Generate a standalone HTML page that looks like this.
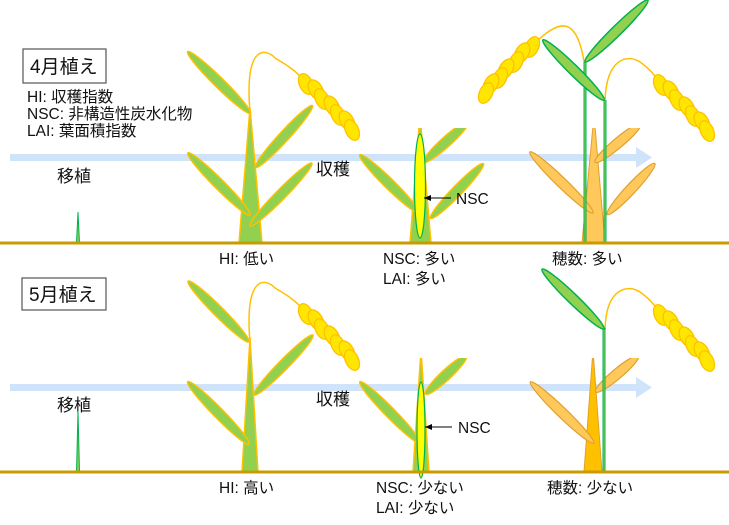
<!DOCTYPE html>
<html><head><meta charset="utf-8"><style>
html,body{margin:0;padding:0;background:#fff;}
svg{display:block;font-family:"Liberation Sans","Noto Sans CJK JP",sans-serif;}
.lf{fill:#92d050;stroke:#ffc000;stroke-width:1.5}
.gl{fill:#92d050;stroke:#00b050;stroke-width:1.5}
.ol{fill:#ffc85a;stroke:#e0a030;stroke-width:1.2}
.gr{fill:#ffe600;stroke:#ffc000;stroke-width:1.3}
.t{font-size:15.5px;fill:#111}
</style></head><body>
<svg width="729" height="525" viewBox="0 0 729 525" xmlns="http://www.w3.org/2000/svg">
<defs>
<clipPath id="c1"><rect x="0" y="128" width="729" height="120"/></clipPath>
<clipPath id="c2"><rect x="0" y="358" width="729" height="120"/></clipPath>
<marker id="ah" markerWidth="8" markerHeight="8" refX="7" refY="4" orient="auto"><path d="M0,1 L7,4 L0,7 Z" fill="#000"/></marker>
<g id="pan">
<ellipse class="gr" cx="306" cy="84" rx="11" ry="6.5" transform="rotate(65 306 84)"/>
<ellipse class="gr" cx="316" cy="90" rx="11" ry="6.5" transform="rotate(60 316 90)"/>
<ellipse class="gr" cx="322" cy="99" rx="11" ry="6.5" transform="rotate(65 322 99)"/>
<ellipse class="gr" cx="332" cy="106" rx="11" ry="6.5" transform="rotate(60 332 106)"/>
<ellipse class="gr" cx="338" cy="115" rx="11" ry="6.5" transform="rotate(65 338 115)"/>
<ellipse class="gr" cx="347" cy="121" rx="11" ry="6.5" transform="rotate(60 347 121)"/>
<ellipse class="gr" cx="352" cy="130" rx="11" ry="6.5" transform="rotate(65 352 130)"/>
</g>
</defs>

<rect x="10" y="154" width="630" height="7" fill="#cfe4fb"/>
<path d="M636,147 L652,157.5 L636,168 Z" fill="#cfe4fb"/>
<rect x="10" y="384" width="630" height="7" fill="#cfe4fb"/>
<path d="M636,377 L652,387.5 L636,398 Z" fill="#cfe4fb"/>

<rect x="23" y="49" width="83" height="34" fill="#fff" stroke="#555" stroke-width="1.2"/>
<text x="30" y="73" style="font-size:19px" fill="#111">4月植え</text>
<text class="t" x="27" y="102">HI: 収穫指数</text>
<text class="t" x="27" y="119">NSC: 非構造性炭水化物</text>
<text class="t" x="27" y="136">LAI: 葉面積指数</text>
<rect x="22" y="278" width="84" height="32" fill="#fff" stroke="#555" stroke-width="1.2"/>
<text x="29" y="301" style="font-size:19px" fill="#111">5月植え</text>

<text class="t" x="57" y="182" style="font-size:17px">移植</text>
<text class="t" x="57" y="411" style="font-size:17px">移植</text>
<text class="t" x="316" y="175" style="font-size:17px">収穫</text>
<text class="t" x="316" y="405" style="font-size:17px">収穫</text>

<path d="M76.5,243 L78,212 L79.5,243 Z" fill="#92d050" stroke="#00b050" stroke-width="1"/>
<path d="M76.5,472 L78,411 L79.5,472 Z" fill="#92d050" stroke="#00b050" stroke-width="1"/>

<path d="M250,112 C244,40 268,50 275,58 C285,64 292,68 300,76" fill="none" stroke="#ffc000" stroke-width="1.5"/>
<use href="#pan"/>
<path class="lf" d="M239,243 L250,108 L262,243 Z"/>
<ellipse class="lf" cx="219" cy="82.5" rx="44" ry="5" transform="rotate(44.5 219 82.5)"/>
<ellipse class="lf" cx="284" cy="136.5" rx="42" ry="5" transform="rotate(-47.4 284 136.5)"/>
<ellipse class="lf" cx="219" cy="184" rx="44" ry="5" transform="rotate(45 219 184)"/>
<ellipse class="lf" cx="281" cy="194.5" rx="44" ry="5" transform="rotate(-45.5 281 194.5)"/>

<g clip-path="url(#c1)">
<path class="lf" d="M410,243 L420,115 L431,243 Z"/>
<ellipse class="lf" cx="389" cy="183.5" rx="41" ry="5" transform="rotate(44.5 389 183.5)"/>
<ellipse class="lf" cx="446" cy="142" rx="30" ry="5" transform="rotate(-42 446 142)"/>
<ellipse class="lf" cx="457" cy="191" rx="38" ry="5" transform="rotate(-46 457 191)"/>
</g>
<ellipse cx="420" cy="186" rx="5.5" ry="52" fill="#ffff00" stroke="#00b050" stroke-width="1.2"/>
<line x1="451" y1="198" x2="424" y2="198" stroke="#000" stroke-width="1" marker-end="url(#ah)"/>
<text class="t" x="456" y="204">NSC</text>

<path d="M585,68 C578,15 560,20 538,40" fill="none" stroke="#ffc000" stroke-width="1.5"/>
<g transform="translate(838 0) scale(-1 1) translate(0 -37)"><use href="#pan"/></g>
<path d="M605,102 C606,55 630,55 640,62 C646,66 650,70 655,76" fill="none" stroke="#ffc000" stroke-width="1.5"/>
<g transform="translate(355 1)"><use href="#pan"/></g>
<g clip-path="url(#c1)">
<path d="M582,243 L594,115 L605,243 Z" fill="#ffc85a" stroke="#e0a030" stroke-width="1"/>
<ellipse class="ol" cx="561.5" cy="182.5" rx="44" ry="5" transform="rotate(44 561.5 182.5)"/>
<ellipse class="ol" cx="618" cy="143" rx="30" ry="5" transform="rotate(-40 618 143)"/>
<ellipse class="ol" cx="631" cy="189" rx="35" ry="5" transform="rotate(-47 631 189)"/>
</g>
<line x1="585" y1="62" x2="585" y2="243" stroke="#00b050" stroke-width="3"/>
<line x1="585" y1="62" x2="585" y2="243" stroke="#92d050" stroke-width="1"/>
<line x1="605" y1="100" x2="605" y2="243" stroke="#00b050" stroke-width="3"/>
<line x1="605" y1="100" x2="605" y2="243" stroke="#92d050" stroke-width="1"/>
<ellipse class="gl" cx="573.5" cy="70" rx="43" ry="5" transform="rotate(44.5 573.5 70)"/>
<ellipse class="gl" cx="616.5" cy="31" rx="44" ry="5" transform="rotate(-44.5 616.5 31)"/>

<path d="M250,342 C244,270 268,280 275,288 C285,294 292,298 300,306" fill="none" stroke="#ffc000" stroke-width="1.5"/>
<g transform="translate(0 230)"><use href="#pan"/></g>
<path class="lf" d="M242,472 L250,338 L258,472 Z"/>
<ellipse class="lf" cx="218.5" cy="311.5" rx="43" ry="5" transform="rotate(45 218.5 311.5)"/>
<ellipse class="lf" cx="283.5" cy="365" rx="42" ry="5" transform="rotate(-45.5 283.5 365)"/>
<ellipse class="lf" cx="218.5" cy="413" rx="44" ry="5" transform="rotate(45.5 218.5 413)"/>

<g clip-path="url(#c2)">
<path class="lf" d="M413,472 L421,350 L429,472 Z"/>
<ellipse class="lf" cx="390" cy="412.5" rx="43" ry="5" transform="rotate(45.5 390 412.5)"/>
<ellipse class="lf" cx="446" cy="375" rx="28" ry="5" transform="rotate(-43 446 375)"/>
</g>
<ellipse cx="421" cy="430" rx="4" ry="48" fill="#ffff00" stroke="#00b050" stroke-width="1.2"/>
<line x1="452" y1="427" x2="425" y2="427" stroke="#000" stroke-width="1" marker-end="url(#ah)"/>
<text class="t" x="458" y="433">NSC</text>

<path d="M605,330 C606,285 630,285 640,292 C646,296 650,300 655,306" fill="none" stroke="#ffc000" stroke-width="1.5"/>
<g transform="translate(355 231)"><use href="#pan"/></g>
<g clip-path="url(#c2)">
<path d="M584,472 L593,350 L602,472 Z" fill="#ffc000" stroke="#e0a030" stroke-width="1"/>
<ellipse class="ol" cx="562" cy="412.5" rx="44" ry="5" transform="rotate(44 562 412.5)"/>
<ellipse class="ol" cx="617" cy="374" rx="28" ry="5" transform="rotate(-40 617 374)"/>
</g>
<line x1="604" y1="328" x2="604" y2="472" stroke="#00b050" stroke-width="3"/>
<line x1="604" y1="328" x2="604" y2="472" stroke="#92d050" stroke-width="1"/>
<ellipse class="gl" cx="573" cy="299" rx="43" ry="5" transform="rotate(44 573 299)"/>

<line x1="0" y1="243" x2="729" y2="243" stroke="#c89b00" stroke-width="3"/>
<line x1="0" y1="472" x2="729" y2="472" stroke="#c89b00" stroke-width="3"/>

<text class="t" x="219" y="264">HI: 低い</text>
<text class="t" x="383" y="264">NSC: 多い</text>
<text class="t" x="383" y="284">LAI: 多い</text>
<text class="t" x="552" y="264">穂数: 多い</text>
<text class="t" x="219" y="493">HI: 高い</text>
<text class="t" x="376" y="493">NSC: 少ない</text>
<text class="t" x="376" y="513">LAI: 少ない</text>
<text class="t" x="547" y="493">穂数: 少ない</text>
</svg>
</body></html>
